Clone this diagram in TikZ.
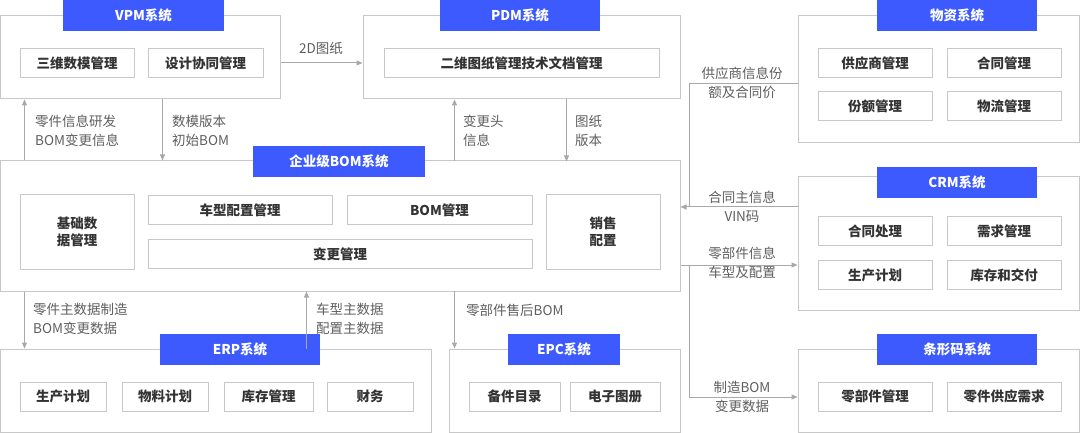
\documentclass[tikz,border=0pt]{standalone}
\usepackage{fontspec}
\setmainfont{Noto Sans CJK SC}
\usetikzlibrary{positioning, arrows.meta}
\definecolor{tabblue}{HTML}{3D5AFE}
\definecolor{boxgray}{HTML}{C8C8C8}
\definecolor{txtdark}{HTML}{333333}
\definecolor{txtgray}{HTML}{5E5E5E}
\definecolor{arrgray}{HTML}{A8A8A8}
\begin{document}
\begin{tikzpicture}[
        x=1pt, y=-1pt,
        outer/.style={draw=boxgray, line width=1pt, inner sep=0pt},
        item/.style={draw=boxgray, line width=1pt, inner sep=0pt, minimum height=29pt,
            text=txtdark, font=\fontsize{13.5}{17}\selectfont\bfseries, align=center},
        tab/.style={fill=tabblue, inner sep=0pt, minimum height=31pt,
            text=white, font=\fontsize{13.5}{15}\selectfont\bfseries},
        lbl/.style={text=txtgray, font=\fontsize{13.5}{18.5}\selectfont, align=left, inner sep=0pt},
        line/.style={draw=arrgray, line width=1pt},
        arr/.style={line, -{Triangle[length=6pt,width=5pt]}}
    ]
    \useasboundingbox (0,0) rectangle (1080,433);

    % Outer boxes
    \node (vpm) [outer, minimum width=280pt, minimum height=83pt] at (140,57.5) {};
    \node (pdm) [outer, minimum width=317pt, minimum height=83pt] at (521.5,57.5) {};
    \node (wz) [outer, minimum width=281pt, minimum height=127pt] at (938.5,79.5) {};
    \node (bom) [outer, minimum width=680pt, minimum height=130pt] at (340,226) {};
    \node (crm) [outer, minimum width=281pt, minimum height=133pt] at (938.5,243.5) {};
    \node (erp) [outer, minimum width=431pt, minimum height=83pt] at (215.5,390.5) {};
    \node (epc) [outer, minimum width=231pt, minimum height=83pt] at (564.5,390.5) {};
    \node (tx) [outer, minimum width=281pt, minimum height=83pt] at (938.5,390.5) {};

    % Title tabs
    \node (vpmtab) [tab, minimum width=161pt] at (143.5,15.5) {VPM系统};
    \node (pdmtab) [tab, minimum width=160pt] at (520,15.5) {PDM系统};
    \node (wztab) [tab, minimum width=160pt] at (957,15.5) {物资系统};
    \node (bomtab) [tab, minimum width=172pt] at (339,161.5) {企业级BOM系统};
    \node (crmtab) [tab, minimum width=160pt] at (957,182.5) {CRM系统};
    \node (erptab) [tab, minimum width=160pt] at (240,349.5) {ERP系统};
    \node (epctab) [tab, minimum width=112pt] at (564,349.5) {EPC系统};
    \node (txtab) [tab, minimum width=160pt] at (957,349.5) {条形码系统};

    % Items
    \node (swsm) [item, minimum width=114pt] at (77,63.5) {三维数模管理};
    \node (sjxt) [item, minimum width=115pt] at (205.5,63.5) {设计协同管理};
    \node (ewtz) [item, minimum width=275pt] at (521.5,63.5) {二维图纸管理技术文档管理};
    \node (gys) [item, minimum width=114pt] at (875,63.5) {供应商管理};
    \node (htgl) [item, minimum width=114pt] at (1004,63.5) {合同管理};
    \node (fegl) [item, minimum width=114pt] at (875,106.5) {份额管理};
    \node (wlgl) [item, minimum width=114pt] at (1004,106.5) {物流管理};
    \node (jcsj) [item, minimum width=114pt, minimum height=74pt] at (77,232) {基础数\\据管理};
    \node (cxpz) [item, minimum width=184pt] at (240,210) {车型配置管理};
    \node (bomgl) [item, minimum width=185pt] at (439.5,210) {BOM管理};
    \node (bggl) [item, minimum width=384pt] at (340,254) {变更管理};
    \node (xspz) [item, minimum width=114pt, minimum height=74pt] at (603,232) {销售\\配置};
    \node (htcl) [item, minimum width=114pt] at (875,231) {合同处理};
    \node (xqgl) [item, minimum width=114pt] at (1004,231) {需求管理};
    \node (scjh2) [item, minimum width=114pt] at (875,275) {生产计划};
    \node (kcjf) [item, minimum width=114pt] at (1004,275) {库存和交付};
    \node (scjh) [item, minimum width=86pt] at (63,396.5) {生产计划};
    \node (wljh) [item, minimum width=86pt] at (165,396.5) {物料计划};
    \node (kcgl) [item, minimum width=89pt] at (268.5,396.5) {库存管理};
    \node (cw) [item, minimum width=86pt] at (370,396.5) {财务};
    \node (bjml) [item, minimum width=91pt] at (514.5,396.5) {备件目录};
    \node (dztc) [item, minimum width=90pt] at (615,396.5) {电子图册};
    \node (lbjgl) [item, minimum width=114pt] at (875,396.5) {零部件管理};
    \node (ljgy) [item, minimum width=114pt] at (1004,396.5) {零件供应需求};

    % Arrows
    \path[arr] ([yshift=-5.5pt]vpm.east) -- ([yshift=-5.5pt]pdm.west);
    \path[arr] ([xshift=25pt]bom.north west) -- ([xshift=25pt]vpm.south west);
    \path[arr] ([xshift=163pt]vpm.south west) -- ([xshift=163pt]bom.north west);
    \path[arr] ([xshift=92pt]pdm.south west) ++(0,62) -- ([xshift=92pt]pdm.south west);
    \path[arr] ([xshift=204pt]pdm.south west) -- ++(0,62);
    \coordinate (jt) at (689,207);
    \coordinate (jb) at (689,265);
    \path[line] ([yshift=-4.5pt]wz.west) -| (jt);
    \path[arr] (jt -| crm.west) -- (jt -| bom.east);
    \path[arr] (jb -| bom.east) -- (jb -| crm.west);
    \path[arr] (jb) |- ([yshift=-6.5pt]tx.west);
    \path[arr] ([xshift=25pt]bom.south west) -- ([xshift=25pt]erp.north west);
    \path[arr] ([xshift=307pt]erp.north west) -- ([xshift=307pt]bom.south west);
    \path[arr] ([xshift=6pt]epc.north west) ++(0,-58) -- ([xshift=6pt]epc.north west);

    % Labels
    \node[lbl, anchor=south] at (321,55) {2D图纸};
    \node[lbl, anchor=west] at (35,131) {零件信息研发\\BOM变更信息};
    \node[lbl, anchor=west] at (172,131) {数模版本\\初始BOM};
    \node[lbl, anchor=west] at (463,131) {变更头\\信息};
    \node[lbl, anchor=west] at (575,131) {图纸\\版本};
    \node[lbl, align=center] at (742,83) {供应商信息份\\额及合同价};
    \node[lbl, align=center] at (742,207) {合同主信息\\VIN码};
    \node[lbl, align=center] at (742,263) {零部件信息\\车型及配置};
    \node[lbl, align=center] at (742,397) {制造BOM\\变更数据};
    \node[lbl, anchor=west] at (33,319) {零件主数据制造\\BOM变更数据};
    \node[lbl, anchor=west] at (316,319) {车型主数据\\配置主数据};
    \node[lbl, anchor=west] at (466,310) {零部件售后BOM};
\end{tikzpicture}
\end{document}
